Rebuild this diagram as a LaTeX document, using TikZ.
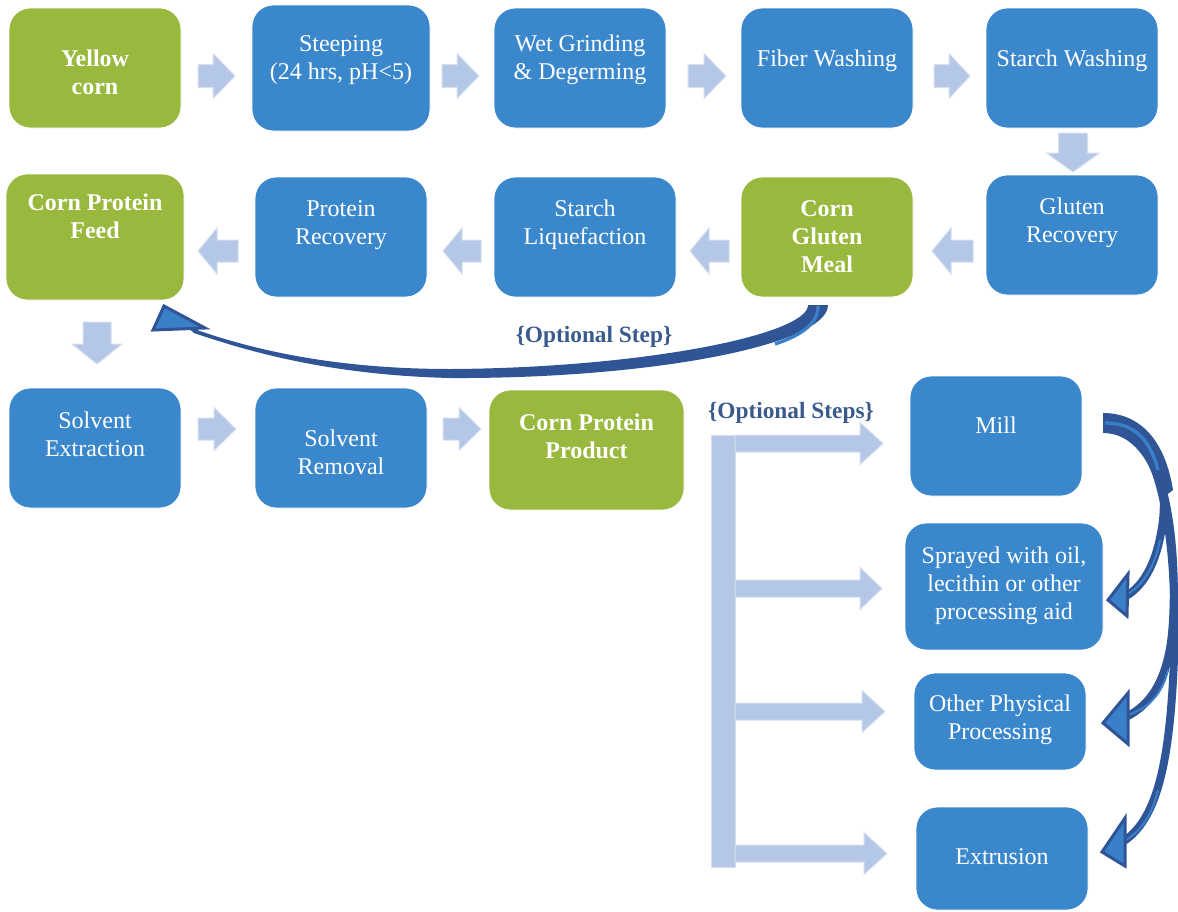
\documentclass[tikz,border=0pt]{standalone}
\usepackage{fontspec}
\setmainfont{Liberation Serif}
\usetikzlibrary{fit,calc}
\definecolor{boxblue}{HTML}{3A87CC}
\definecolor{boxgreen}{HTML}{98B83E}
\definecolor{arrlight}{HTML}{B4C7E7}
\definecolor{arredge}{HTML}{D5DFF1}
\definecolor{curvedark}{HTML}{2F5597}
\definecolor{curvemid}{HTML}{3A80C8}
\definecolor{opttext}{HTML}{3A5A8C}
\newcommand\mybox[8]{%
  \node[boxsty, fill=#6, fit={(#2,#3) (#4,#5)}] (#1) {};
  \node[txt] (#1-t) at ({(#2+#4)/2},#7) {#8};}
\newcommand\harr[6]{\filldraw[arrsty] (#1,{#4-#5}) -- (#2,{#4-#5}) -- (#2,{#4-#6}) -- (#3,#4) -- (#2,{#4+#6}) -- (#2,{#4+#5}) -- (#1,{#4+#5}) -- cycle;}
\newcommand\varr[6]{\filldraw[arrsty] ({#4-#5},#1) -- ({#4-#5},#2) -- ({#4-#6},#2) -- (#4,#3) -- ({#4+#6},#2) -- ({#4+#5},#2) -- ({#4+#5},#1) -- cycle;}
\begin{document}
\begin{tikzpicture}[x=0.75pt,y=-0.75pt,
  boxsty/.style={rectangle, rounded corners=16pt, inner sep=0pt, draw=white, line width=0.6pt},
  txt/.style={text=white, align=center, font=\fontsize{18}{21}\selectfont, inner sep=0pt},
  arrsty/.style={fill=arrlight, draw=arredge, line width=0.75pt},
  optsty/.style={text=opttext, font=\fontsize{17.5}{21}\selectfont\bfseries, inner sep=0pt},
  darkline/.style={draw=curvedark, line width=6pt},
  midline/.style={draw=curvemid, line width=1.5pt},
  headsty/.style={fill=curvemid, draw=curvedark, line width=2.25pt, line join=miter}]
\useasboundingbox (0,0) rectangle (1178,911);
% row 1
\mybox{yc}{9}{8}{181}{128}{boxgreen}{72}{\textbf{Yellow}\\\textbf{corn}}
\mybox{st}{252}{5}{430}{131}{boxblue}{60}{Steeping\\(24 hrs, pH<5)}
\mybox{wg}{494}{8}{666}{128}{boxblue}{60}{Wet Grinding\\\& Degerming}
\mybox{fw}{741}{8}{913}{128}{boxblue}{61}{Fiber Washing}
\mybox{sw}{986}{8}{1158}{128}{boxblue}{61}{Starch Washing}
% row 2
\mybox{cpf}{6}{174}{184}{300}{boxgreen}{216}{\textbf{Corn Protein}\\\textbf{Feed}}
\mybox{pr}{255}{177}{427}{297}{boxblue}{225}{Protein\\Recovery}
\mybox{sl}{494}{177}{676}{297}{boxblue}{225}{Starch\\Liquefaction}
\mybox{cgm}{741}{177}{913}{297}{boxgreen}{237}{\textbf{Corn}\\\textbf{Gluten}\\\textbf{Meal}}
\mybox{gr}{986}{175}{1158}{295}{boxblue}{223}{Gluten\\Recovery}
% row 3
\mybox{se}{9}{388}{181}{508}{boxblue}{434}{Solvent\\Extraction}
\mybox{sr}{255}{388}{427}{508}{boxblue}{452}{Solvent\\Removal}
\mybox{cpp}{489}{390}{684}{510}{boxgreen}{436}{\textbf{Corn Protein}\\\textbf{Product}}
% right column
\mybox{mill}{910}{376}{1082}{496}{boxblue}{425}{Mill}
\mybox{spr}{905}{523}{1103}{650}{boxblue}{586}{Sprayed with oil,\\lecithin or other\\processing aid}
\mybox{oth}{914}{673}{1086}{770}{boxblue}{720}{Other Physical\\Processing}
\mybox{ext}{916}{807}{1088}{910}{boxblue}{857}{Extrusion}
% block arrows row 1
\harr{198}{213}{235}{76}{11.5}{22.5}
\harr{442}{457}{479}{76}{11.5}{22.5}
\harr{688}{704}{726}{76}{11.5}{22.5}
\harr{934}{949}{970}{76}{11.5}{22.5}
\varr{133}{153}{172}{1073}{14.5}{26.5}
% row 2 (leftwards)
\harr{973}{951}{932}{251}{11}{23}
\harr{729}{709}{690}{251}{11}{23}
\harr{481}{462}{443}{251}{11}{23}
\harr{238}{217}{198}{251}{11}{23}
\varr{322}{344}{364}{97}{14}{25}
% row 3
\harr{198}{214}{236}{429}{11}{21.5}
\harr{443}{459}{481}{429}{11}{21.5}
% bracket
\filldraw[arrsty] (711,435) rectangle (735,867);
\harr{735}{860}{883}{443.5}{8.5}{21}
\harr{735}{860}{882}{588.5}{8.5}{21}
\harr{735}{862}{885}{711.5}{8.5}{21}
\harr{735}{864}{887}{853.5}{8.5}{21}
% optional labels
\node[optsty] (opt1) at (594,337) {\{Optional Step\}};
\node[optsty] (opt2) at (791,413) {\{Optional Steps\}};
% curved arrow: Corn Gluten Meal -> Corn Protein Feed
\fill[curvedark] (828,305) .. controls (828,345) and (650,379) .. (450,378)
  .. controls (330,375) and (250,352) .. (194,333) -- (186,326)
  .. controls (245,348) and (330,369) .. (450,369)
  .. controls (640,368) and (808,335) .. (808,305) -- cycle;
\draw[midline, line width=2.5pt] (818,306) .. controls (818,322) and (805,334) .. (775,344);
\filldraw[headsty] (164,306) -- (153,330) -- (205,328) -- cycle;
% curved arrows from Mill
\fill[curvedark] (1103,413) .. controls (1140,413) and (1165,440) .. (1173,490)
  -- (1160,500) .. controls (1152,460) and (1132,433) .. (1103,433) -- cycle;
\draw[darkline] (1110,423) .. controls (1150,423) and (1168,470) .. (1163,520)
  .. controls (1158,560) and (1145,585) .. (1126,596);
\draw[darkline] (1110,423) .. controls (1160,423) and (1178,530) .. (1173,620)
  .. controls (1170,680) and (1150,705) .. (1126,717);
\draw[darkline] (1110,423) .. controls (1165,423) and (1180,560) .. (1173,680)
  .. controls (1168,770) and (1155,820) .. (1124,841);
\draw[midline, line width=2.5pt] (1105,423) .. controls (1135,423) and (1150,440) .. (1158,470);
\draw[midline] (1160,540) .. controls (1155,565) and (1145,583) .. (1128,594);
\draw[midline] (1168,670) .. controls (1162,695) and (1148,708) .. (1128,715);
\draw[midline] (1158,790) .. controls (1152,815) and (1142,830) .. (1126,840);
\filldraw[headsty] (1108,600) -- (1128,574) -- (1127,616) -- cycle;
\filldraw[headsty] (1103,723) -- (1128,693) -- (1128,744) -- cycle;
\filldraw[headsty] (1102,852) -- (1125,818) -- (1125,866) -- cycle;
\end{tikzpicture}
\end{document}
